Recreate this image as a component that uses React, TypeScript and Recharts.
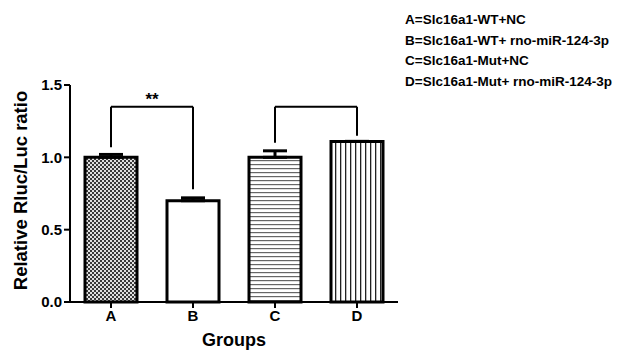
import { BarChart, Bar, XAxis, YAxis, Cell, ErrorBar, ReferenceLine } from "recharts";

const groups = ["A", "B", "C", "D"];
const ratios = [1.0, 0.7, 1.0, 1.11];
const errs = [0.02, 0.02, 0.045, 0];
const yTicks = [0, 0.5, 1.0, 1.5];
const legendLines = [
  "A=Slc16a1-WT+NC",
  "B=Slc16a1-WT+ rno-miR-124-3p",
  "C=Slc16a1-Mut+NC",
  "D=Slc16a1-Mut+ rno-miR-124-3p",
];
const fills = ["url(#checker)", "#ffffff", "url(#hlines)", "url(#vlines)"];

// brackets: [left group, right group, top, left leg bottom, right leg bottom, label]
const brackets: [string, string, number, number, number, string][] = [
  ["A", "B", 1.35, 1.07, 0.78, "**"],
  ["C", "D", 1.35, 1.1, 1.15, ""],
];

const data = groups.map((g, i) => ({ group: g, ratio: ratios[i], err: [0, errs[i]] }));

const font = "'Liberation Sans', Arial, sans-serif";
const tickStyle = { fontFamily: font, fontWeight: 700, fontSize: 15, fill: "#000" };

const App = () => {
  return (
    <div style={{ position: "absolute", left: 0, top: 0, width: 617, height: 352, background: "#fff" }}>
      <BarChart
        width={617}
        height={352}
        data={data}
        margin={{ top: 85, right: 219, left: 0, bottom: 0 }}
      >
        <defs>
          <pattern id="checker" width="4" height="4" patternUnits="userSpaceOnUse">
            <rect x="0" y="0" width="4" height="4" fill="#e0e0e0" />
            <rect x="0" y="0" width="2" height="2" fill="#3a3a3a" />
            <rect x="2" y="2" width="2" height="2" fill="#3a3a3a" />
          </pattern>
          <pattern id="hlines" width="4" height="4" patternUnits="userSpaceOnUse">
            <rect x="0" y="0" width="4" height="4" fill="#fff" />
            <rect x="0" y="0" width="4" height="1.2" fill="#666" />
          </pattern>
          <pattern id="vlines" width="5" height="5" patternUnits="userSpaceOnUse">
            <rect x="0" y="0" width="5" height="5" fill="#fff" />
            <rect x="0" y="0" width="1.3" height="5" fill="#222" />
          </pattern>
        </defs>
        <XAxis
          dataKey="group"
          height={50}
          tick={tickStyle}
          tickSize={6}
          axisLine={{ stroke: "#000", strokeWidth: 2 }}
          tickLine={{ stroke: "#000", strokeWidth: 2 }}
          label={{
            value: "Groups",
            position: "insideBottom",
            offset: 6,
            style: { fontFamily: font, fontWeight: 700, fontSize: 18, fill: "#000" },
          }}
        />
        <YAxis
          width={70}
          domain={[0, 1.5]}
          ticks={yTicks}
          tickFormatter={(v: number) => v.toFixed(1)}
          tick={tickStyle}
          tickSize={6}
          axisLine={{ stroke: "#000", strokeWidth: 2 }}
          tickLine={{ stroke: "#000", strokeWidth: 2 }}
          label={{
            value: "Relative Rluc/Luc ratio",
            angle: -90,
            position: "center",
            dx: -15,
            dy: -3,
            style: { fontFamily: font, fontWeight: 700, fontSize: 18.5, fill: "#000" },
          }}
        />
        <Bar dataKey="ratio" barSize={52} stroke="#000" strokeWidth={3} isAnimationActive={false}>
          {data.map((d, i) => (
            <Cell key={d.group} fill={fills[i]} />
          ))}
          <ErrorBar dataKey="err" direction="y" width={12} stroke="#000" strokeWidth={3} />
        </Bar>
        {brackets.map(([l, r, top, lb, rb, txt]) => [
          <ReferenceLine
            key={l + "h"}
            segment={[{ x: l, y: top }, { x: r, y: top }]}
            stroke="#000"
            strokeWidth={2}
            label={txt ? { value: txt, position: "top", offset: 2, style: { fontFamily: font, fontWeight: 700, fontSize: 17, fill: "#000" } } : undefined}
          />,
          <ReferenceLine key={l + "l"} segment={[{ x: l, y: lb }, { x: l, y: top }]} stroke="#000" strokeWidth={2} />,
          <ReferenceLine key={l + "r"} segment={[{ x: r, y: rb }, { x: r, y: top }]} stroke="#000" strokeWidth={2} />,
        ])}
      </BarChart>
      <div
        style={{
          position: "absolute",
          left: 405,
          top: 10,
          fontFamily: font,
          fontWeight: 700,
          fontSize: 13.5,
          lineHeight: "20.7px",
          whiteSpace: "nowrap",
          color: "#000",
        }}
      >
        {legendLines.map((t) => (
          <div key={t}>{t}</div>
        ))}
      </div>
    </div>
  );
};

export default App;
